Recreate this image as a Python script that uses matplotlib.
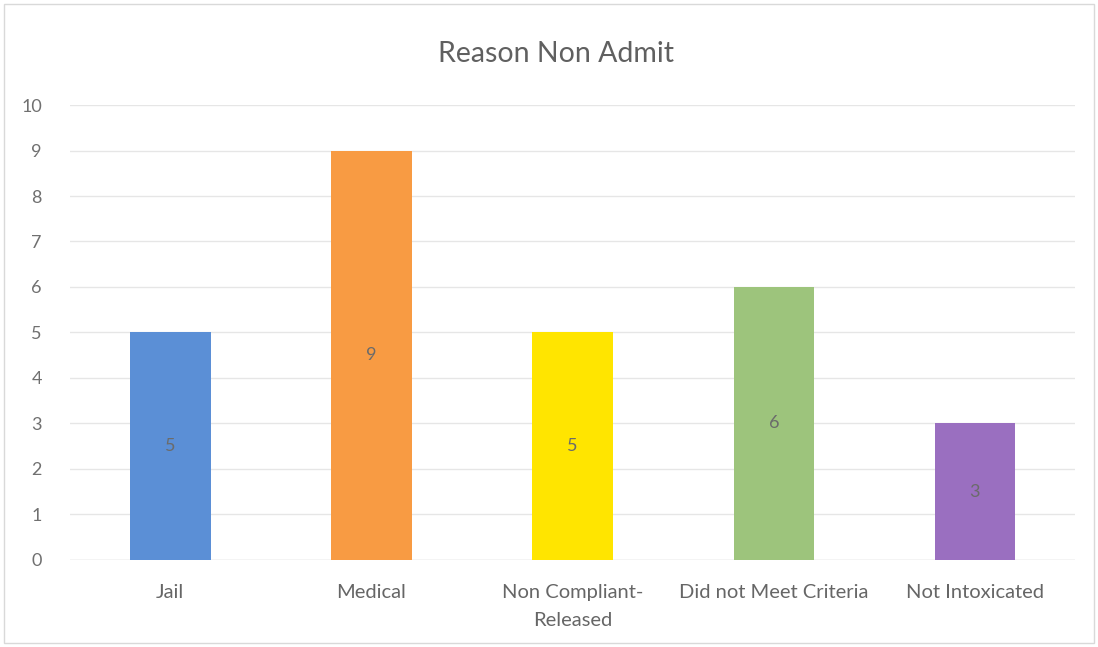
import matplotlib
matplotlib.use("Agg")
import matplotlib.pyplot as plt
from matplotlib.patches import Rectangle

categories = ["Jail", "Medical", "Non Compliant-\nReleased", "Did not Meet Criteria", "Not Intoxicated"]
values = [5, 9, 5, 6, 3]
colors = ["#5B8FD6", "#F89B43", "#FFE500", "#9DC47C", "#9A6FC0"]
yticks = list(range(0, 11))

plt.rcParams['font.family'] = ['Lato', 'DejaVu Sans']

fig = plt.figure(figsize=(10.98, 6.47), dpi=100)
ax = fig.add_axes([0.0635, 0.1345, 0.916, 0.7032])

x = list(range(len(categories)))
bars = ax.bar(x, values, width=0.4, color=colors, zorder=3)
for xi, v in zip(x, values):
    ax.text(xi, v / 2, str(v), ha="center", va="center", fontsize=13, color="#6b6b6b", zorder=4)

ax.set_xlim(-0.5, 4.5)
ax.set_ylim(0, 10)
ax.set_yticks(yticks)
ax.set_yticklabels([str(t) for t in yticks], fontsize=13, color="#707070")
ax.set_xticks(x)
ax.set_xticklabels(categories, fontsize=14.5, color="#666666", linespacing=1.8)
ax.tick_params(axis="both", length=0)
ax.tick_params(axis="y", pad=20)
ax.tick_params(axis="x", pad=17)
ax.grid(axis="y", color="#e6e6e6", linewidth=1, zorder=0)
for s in ax.spines.values():
    s.set_visible(False)
ax.axhline(0, color="#dcdcdc", linewidth=1, zorder=2)

fig.text(0.506, 0.916, "Reason Non Admit", ha="center", va="center", fontsize=20.5,
         color="#606060")
fig.patches.append(Rectangle((0.004, 0.006), 0.992, 0.988, transform=fig.transFigure,
                             fill=False, edgecolor="#d9d9d9", linewidth=1))

fig.savefig("out.png", dpi=100, facecolor="white")
